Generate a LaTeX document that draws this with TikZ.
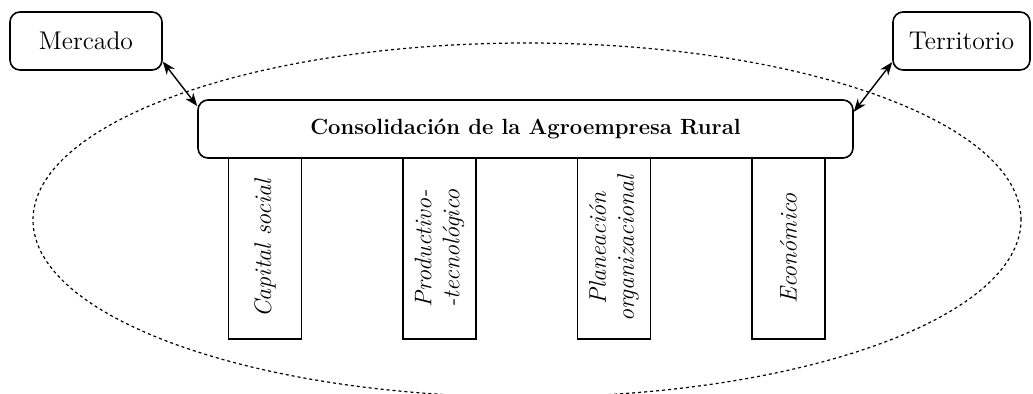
\documentclass[tikz,border=0pt]{standalone}
\usepackage{tikz}
\usetikzlibrary{arrows.meta}

\begin{document}
\begin{tikzpicture}[x=0.5pt, y=-0.5pt,
        caja/.style={draw, rounded corners=5pt, line width=0.8pt, minimum height=29pt, inner sep=0pt, font=\fontsize{12.8}{15}\selectfont},
        pilar/.style={draw, line width=0.8pt, rotate=90, minimum width=90.5pt, minimum height=36.5pt, inner sep=0pt, align=center, font=\large\itshape},
        flecha/.style={{Stealth[length=6.5pt,width=5pt]}-{Stealth[length=6.5pt,width=5pt]}, line width=0.7pt}]
    \useasboundingbox (0, 0) rectangle (1033, 393);

    % entorno
    \draw[dash pattern=on 1.5pt off 1.5pt, line width=0.6pt] (527, 220) ellipse [x radius=247pt, y radius=88.5pt];

    % pilares
    \node[pilar] (capital) at (265, 248.5) {Capital social};
    \node[pilar] (productivo) at (439.5, 248.5) {Productivo-\\-tecnológico};
    \node[pilar] (planeacion) at (614, 248.5) {Planeación\\organizacional};
    \node[pilar] (economico) at (788.5, 248.5) {Económico};

    \node[caja, fill=white, font=\fontsize{11}{13}\selectfont\bfseries, minimum width=327.5pt] (consol) at (525.5, 129) {Consolidación de la Agroempresa Rural};

    \node[caja, minimum width=76pt] (merc) at (86, 41) {Mercado};
    \node[caja, minimum width=68.5pt] (terr) at (961.5, 41) {Territorio};

    \draw[flecha] (merc.-15) -- (consol.176.6);
    \draw[flecha] (terr.197.7) -- (consol.3.4);
\end{tikzpicture}
\end{document}
